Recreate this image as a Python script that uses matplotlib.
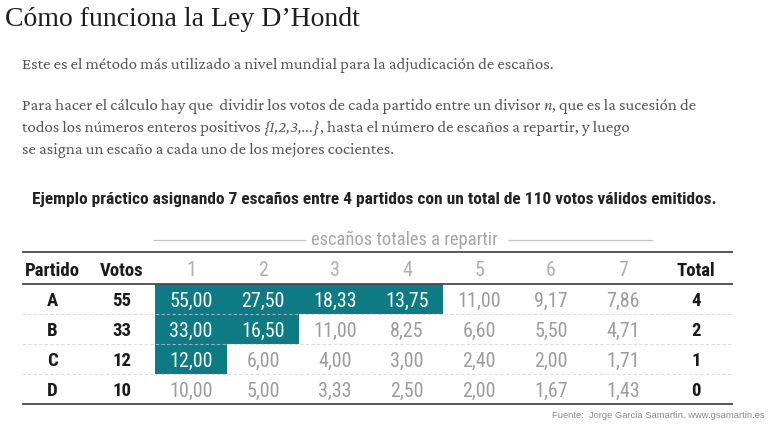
import matplotlib
matplotlib.use('Agg')
import matplotlib.pyplot as plt

# datos del ejemplo
partidos = ['A', 'B', 'C', 'D']
votos = [55, 33, 12, 10]
divisores = [1, 2, 3, 4, 5, 6, 7]
cocientes = [
    [55.00, 27.50, 18.33, 13.75, 11.00, 9.17, 7.86],
    [33.00, 16.50, 11.00, 8.25, 6.60, 5.50, 4.71],
    [12.00, 6.00, 4.00, 3.00, 2.40, 2.00, 1.71],
    [10.00, 5.00, 3.33, 2.50, 2.00, 1.67, 1.43],
]
totales = [4, 2, 1, 0]

titulo = 'Cómo funciona la Ley D\u2019Hondt'
subtitulo = ('Ejemplo práctico asignando 7 escaños entre 4 partidos con un total '
             'de 110 votos válidos emitidos.')
fuente = 'Fuente:  Jorge Garcia Samartin. www.gsamartin.es'

SERIF = ['Crimson Pro', 'Liberation Serif', 'DejaVu Serif']
NARROW = ['Roboto Condensed', 'Archivo Narrow', 'Liberation Sans', 'DejaVu Sans']
TEAL = '#0e7a84'
GRIS = '#9c9c9c'

fig = plt.figure(figsize=(7.68, 4.31), dpi=100)
ax = fig.add_axes([0, 0, 1, 1])
ax.set_xlim(0, 768)
ax.set_ylim(431, 0)
ax.axis('off')
renderer = fig.canvas.get_renderer()


def ajustar(texto, ancho, **kw):
    # tamaño de letra para que el texto ocupe el ancho (en px) del original
    t = fig.text(0, 0, texto, fontsize=10, **kw)
    w = t.get_window_extent(renderer=renderer).width
    t.remove()
    return 10 * ancho / w


# titulo
ax.text(5, 19, titulo, family=['Liberation Serif', 'DejaVu Serif'], fontsize=20,
        color='#1e1e1e', va='center')

# parrafos (con trozos en cursiva)
linea1 = 'Este es el método más utilizado a nivel mundial para la adjudicación de escaños.'
fs_par = ajustar(linea1, 530, family=SERIF)


def linea(y, trozos, x=22):
    for txt, estilo in trozos:
        t = ax.text(x, y, txt, family=SERIF, style=estilo, fontsize=fs_par,
                    color='#555555', va='center')
        x += t.get_window_extent(renderer=renderer).width


linea(65, [(linea1, 'normal')])
linea(106, [('Para hacer el cálculo hay que  dividir los votos de cada partido entre un divisor ', 'normal'),
            ('n', 'italic'), (', que es la sucesión de', 'normal')])
linea(128, [('todos los números enteros positivos ', 'normal'), ('{1,2,3,...}', 'italic'),
            (', hasta el número de escaños a repartir, y luego', 'normal')])
linea(150, [('se asigna un escaño a cada uno de los mejores cocientes.', 'normal')])

# subtitulo
fs_sub = ajustar(subtitulo, 685, family=NARROW, fontweight='bold')
ax.text(374.5, 200, subtitulo, family=NARROW, fontweight='bold', fontsize=fs_sub,
        color='#222222', ha='center', va='center')

# geometria de la tabla
col0, colw = 155, 72
x_partido, x_votos, x_total = 52, 122, 696
izq, der = 22, 733
fila0, filah = 285, 30
cx = [col0 + colw * (d - 0.5) for d in divisores]
cy = [fila0 + filah * (i + 0.5) + 1.5 for i in range(len(partidos))]

# cabecera superior
fs_cab = ajustar('escaños totales a repartir', 185, family=NARROW)
ax.text(404.5, 240, 'escaños totales a repartir', family=NARROW, fontsize=fs_cab,
        color='#a5a5a5', ha='center', va='center')
ax.hlines([241, 241], [153, 508], [306, 653], color='#c4c4c4', lw=0.9)

# celdas resaltadas (cocientes que reciben escaño)
bx, by = [], []
for i in range(len(partidos)):
    for j in range(totales[i]):
        bx.append(cx[j])
        by.append(fila0 + filah * i)
ax.bar(bx, filah, width=colw, bottom=by, color=TEAL, zorder=1)

# lineas
ax.hlines([253, fila0, fila0 + filah * len(partidos)], izq, der,
          color='#4a4a4a', lw=1.3, zorder=3)
ax.hlines([fila0 + filah * k for k in range(1, len(partidos))], izq, der,
          color='#cfcfcf', lw=0.8, linestyles=(0, (3, 2)), alpha=0.7, zorder=2)

# cabeceras (la fuente del original es algo más estrecha, se agranda un poco)
fs_tab = ajustar('Partido', 51, family=NARROW, fontweight='bold') * 1.08
fs_num = ajustar('55,00', 40, family=NARROW) * 1.08
yh = 271
kb = dict(family=NARROW, fontsize=fs_tab, ha='center', va='center', color='#1a1a1a',
          fontweight='bold')
kn = dict(family=NARROW, fontsize=fs_num, ha='center', va='center', zorder=4)
ax.text(x_partido, yh, 'Partido', **kb)
ax.text(x_votos, yh, 'Votos', **kb)
for d, x in zip(divisores, cx):
    ax.text(x, yh, str(d), color='#b0b0b0', **kn)
ax.text(x_total, yh, 'Total', **kb)

# cuerpo
for i, p in enumerate(partidos):
    y = cy[i]
    ax.text(x_partido, y, p, **kb)
    ax.text(x_votos, y, str(votos[i]), **kb)
    for j, v in enumerate(cocientes[i]):
        col = 'white' if j < totales[i] else GRIS
        ax.text(cx[j], y, f'{v:.2f}'.replace('.', ','), color=col, **kn)
    ax.text(x_total, y, str(totales[i]), **kb)

# fuente
fs_fte = ajustar(fuente, 213, family=['Liberation Sans', 'DejaVu Sans'])
ax.text(765, 416, fuente, family=['Liberation Sans', 'DejaVu Sans'], fontsize=fs_fte,
        color='#8a8a8a', ha='right', va='center')

fig.savefig('out.png', dpi=100)
